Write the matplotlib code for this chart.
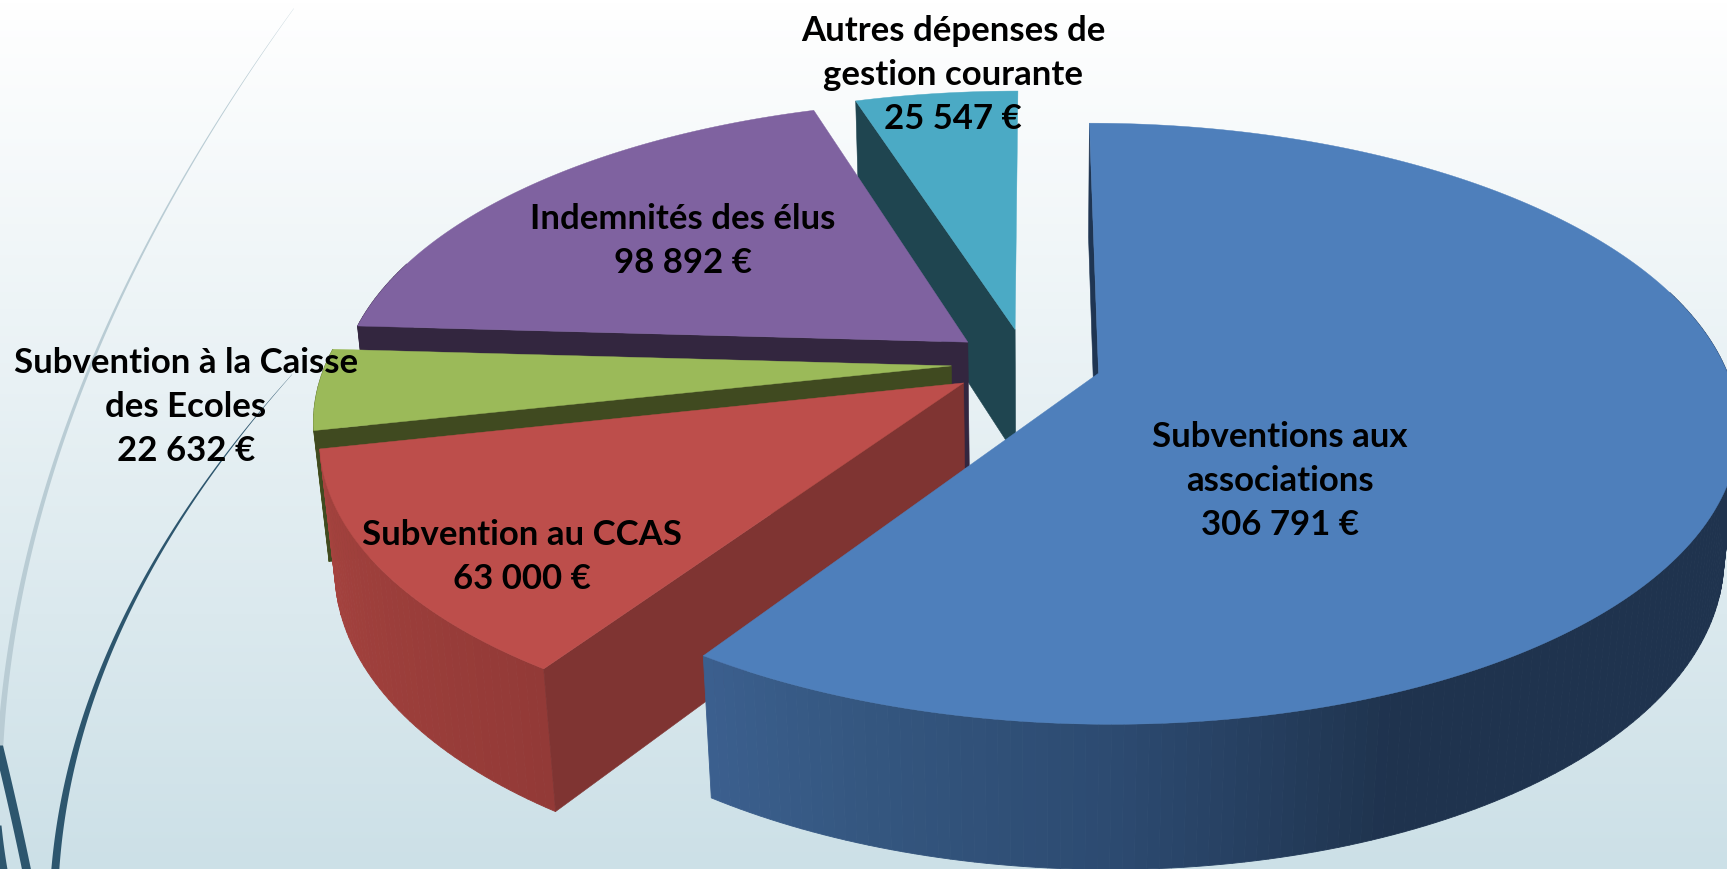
import numpy as np
import matplotlib
matplotlib.use("Agg")
import matplotlib.pyplot as plt
from matplotlib.colors import to_rgb

# ---- data ----
categories = ["Subventions aux\nassociations", "Subvention au CCAS",
              "Subvention à la Caisse\ndes Ecoles", "Indemnités des élus",
              "Autres dépenses de\ngestion courante"]
amounts = [306791, 63000, 22632, 98892, 25547]

# ---- style ----
top_colors = ["#4e7fbb", "#bd4e4b", "#9bba59", "#7f62a0", "#4baac5"]
face_colors = ["#1f3552", "#7f3432", "#404a20", "#33263f", "#1f4550"]
wall_stops = [[(0.0, "#1f334e"), (0.74, "#1f334e"), (0.84, "#2c4a70"), (0.93, "#34567f"), (1.0, "#3b5f8e")],
              [(0.0, "#933a37"), (1.0, "#a6433f")],
              [(0.0, "#56682c"), (1.0, "#4f5f2a")],
              [(0.0, "#33263f"), (1.0, "#33263f")],
              [(0.0, "#1f4550"), (1.0, "#1f4550")]]
draw_order = [4, 3, 2, 1, 0]
label_centers = [(1280, 481), (522, 557), (186, 407), (683, 241), (953, 75)]

# ---- projection of the pie plane ----
K, A, B = 0.168, 629.0, 292.0
XP, X_OFF, Y0 = 1035.0, 63.0, 373.0
VX, VY, DEPTH = 1040.0, 6618.0, 0.0205
CENTER = np.array([-0.114, 0.034])
EXPLODE = 0.12


def project(px, py, down=0.0):
    px, py = np.asarray(px, float), np.asarray(py, float)
    p = 1.0 / (1.0 + K * py)
    x = XP + (X_OFF + A * px) * p
    y = Y0 - B * py * p
    t = DEPTH * p * down
    return x + (VX - x) * t, y + (VY - y) * t


def gradient(stops, f):
    fs = [s[0] for s in stops]
    cols = np.array([to_rgb(s[1]) for s in stops])
    return tuple(np.interp(f, fs, cols[:, i]) for i in range(3))


fig = plt.figure(figsize=(17.27, 8.69), dpi=100)
ax = fig.add_axes([0, 0, 1, 1])
ax.set_xlim(0, 1727)
ax.set_ylim(869, 0)
ax.axis("off")

# background gradient
grad = np.linspace(0, 1, 256)[:, None, None]
c0, c1 = np.array(to_rgb("#ffffff")), np.array(to_rgb("#cce0e7"))
ax.imshow(c0 + (c1 - c0) * grad, extent=[0, 1727, 869, 0], aspect="auto", zorder=0)


# decorative swooshes
def swoosh(ys, xs, w0, w1, color):
    y = np.linspace(min(ys), max(ys), 200)
    x = np.polyval(np.polyfit(ys, xs, 3), y)
    w = np.linspace(w0, w1, 200)
    ax.fill_betweenx(y, x - w / 2, x + w / 2, color=color, lw=0, zorder=1)


swoosh([8, 94, 183, 344, 499, 626, 748], [294, 233, 180, 100, 43, 13, 0], 0.3, 6, "#b9ccd4")
swoosh([374, 410, 488, 571, 649, 732, 804, 869], [292, 260, 200, 150, 110, 80, 63, 55], 0.3, 8, "#2d566e")
swoosh([745, 800, 869], [-2, 11, 26], 9, 9, "#2d566e")
swoosh([825, 850, 869], [-3, 0, 3], 8, 8, "#2d566e")

# pie
fractions = np.array(amounts) / sum(amounts)
ends = np.cumsum(fractions) * 2 * np.pi
starts = ends - fractions * 2 * np.pi
z = 2
for i in draw_order:
    a0, a1 = starts[i], ends[i]
    mid = (a0 + a1) / 2
    ax_, ay_ = CENTER + EXPLODE * np.array([np.sin(mid), np.cos(mid)])
    th = np.linspace(a0, a1, max(8, int((a1 - a0) * 60)))
    px, py = ax_ + np.sin(th), ay_ + np.cos(th)

    # outer wall, one small quad per step for the shading (front-facing part only)
    tx, ty = project(px, py)
    bx, by = project(px, py, 1.0)
    for j in range(len(th) - 1):
        if np.cos(th[j]) > 0.3 or np.cos(th[j + 1]) > 0.3:
            continue
        col = gradient(wall_stops[i], j / (len(th) - 2))
        ax.fill([tx[j], tx[j + 1], bx[j + 1], bx[j]], [ty[j], ty[j + 1], by[j + 1], by[j]],
                color=col, lw=0.6, zorder=z)

    # radial cut face at the start angle
    fx = [ax_, px[0]]
    fy = [ay_, py[0]]
    tx, ty = project(fx, fy)
    bx, by = project(fx, fy, 1.0)
    ax.fill(np.r_[tx, bx[::-1]], np.r_[ty, by[::-1]], color=face_colors[i], lw=0.4, zorder=z + 0.2)

    # top surface
    ox, oy = project(np.r_[ax_, px], np.r_[ay_, py])
    ax.fill(ox, oy, color=top_colors[i], lw=0.3, zorder=z + 0.5)
    z += 1

# labels
for name, val, (lx, ly) in zip(categories, amounts, label_centers):
    txt = name + "\n" + f"{val:,}".replace(",", " ") + " €"
    ax.text(lx, ly, txt, ha="center", va="center", family="Lato", weight="bold",
            fontsize=25, color="black", linespacing=1.48, zorder=20)

fig.savefig("out.png", dpi=100)
